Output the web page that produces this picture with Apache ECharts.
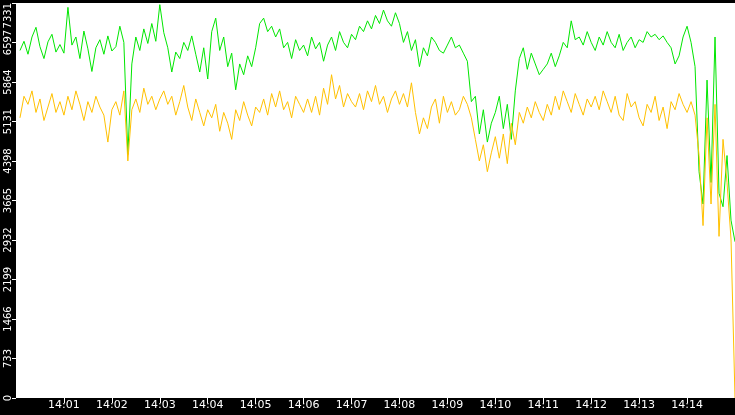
<!DOCTYPE html>
<html>
<head>
<meta charset="UTF-8">
<script src="https://cdn.jsdelivr.net/npm/echarts@6/dist/echarts.min.js"></script>
<style>html,body{margin:0;padding:0;background:#000;}#c{width:735px;height:415px;}</style>
</head>
<body>
<div id="c"></div>
<script>
// samples every 5 s starting at 14:00:05, 12 per minute
var green = [
    6450,6620,6380,6700,6880,6520,6300,6610,6750,6420,6560,6400,
    7250,6550,6700,6300,6810,6480,6060,6500,6650,6380,6720,6440,
    6520,6900,6600,4520,6200,6700,6450,6850,6580,6950,6620,7300,
    6780,6500,6050,6420,6300,6600,6450,6720,6380,6050,6500,5920,
    6800,7050,6450,6700,6150,6400,5720,6200,6000,6350,6150,6500,
    6950,7050,6800,6900,6700,6850,6500,6600,6300,6650,6450,6550,
    6350,6700,6480,6600,6250,6550,6700,6450,6800,6600,6500,6750,
    6650,6900,6800,7000,6850,7100,6950,7200,7000,6900,7150,6950,
    6600,6800,6450,6650,6150,6500,6350,6700,6600,6450,6400,6550,
    6700,6500,6550,6400,6250,5500,5600,4900,5350,4750,5100,5300,
    5600,5000,5450,4800,5700,6300,6500,6100,6400,6200,6000,6100,
    6200,6400,6150,6350,6600,6500,7000,6650,6700,6550,6800,6600,
    6450,6700,6550,6800,6600,6500,6750,6450,6600,6700,6500,6650,
    6600,6800,6700,6750,6650,6720,6600,6500,6200,6350,6700,6900,
    6600,6150,4200,3600,5900,4000,6700,3800,3550,4500,3300,2900
];
var yellow = [
    5200,5600,5450,5700,5300,5550,5150,5400,5650,5300,5500,5250,
    5600,5350,5700,5450,5150,5500,5300,5600,5400,5250,4750,5350,
    5500,5250,5700,4400,5350,5550,5300,5750,5450,5600,5350,5550,
    5700,5450,5600,5250,5500,5800,5400,5150,5550,5300,5050,5350,
    5200,5450,4950,5300,5100,4800,5350,5150,5500,5250,5050,5400,
    5300,5550,5250,5650,5400,5700,5350,5500,5200,5600,5450,5300,
    5550,5300,5600,5250,5750,5450,6000,5550,5800,5400,5650,5500,
    5400,5650,5350,5700,5500,5800,5450,5600,5300,5550,5700,5450,
    5650,5400,5850,5300,4900,5200,5000,5400,5550,5100,5600,5300,
    5500,5250,5350,5600,5450,5200,4800,4400,4700,4200,4550,4850,
    4450,4900,4350,5100,4700,5300,5100,5400,5200,5500,5300,5150,
    5450,5250,5600,5350,5700,5500,5300,5650,5450,5250,5550,5400,
    5600,5350,5700,5500,5300,5600,5250,5150,5650,5400,5500,5200,
    5050,5450,5300,5600,5150,5400,5000,5500,5350,5650,5450,5300,
    5500,5250,4500,3200,5200,3600,5450,3000,4800,4000,2950,0
];
var stepSec = 5;
var yMax = 7331;

function pairs(arr) {
    return arr.map(function (v, i) { return [(i + 1) * stepSec, v]; });
}

var chart = echarts.init(document.getElementById('c'));
chart.setOption({
    backgroundColor: '#000',
    animation: false,
    grid: { left: 16, right: 0, top: 0, bottom: 17, show: true, backgroundColor: '#fff', borderWidth: 0 },
    xAxis: {
        type: 'value', min: 0, max: 900, interval: 60,
        axisLine: { show: false },
        axisTick: { show: true, length: 5, lineStyle: { color: '#fff' } },
        splitLine: { show: false },
        axisLabel: {
            color: '#fff', fontSize: 11, fontFamily: 'DejaVu Sans', margin: 2,
            showMinLabel: false, showMaxLabel: false,
            formatter: function (v) { var m = Math.round(v / 60); return '14:' + (m < 10 ? '0' + m : m); }
        }
    },
    yAxis: {
        type: 'value', min: 0, max: yMax, interval: yMax / 10,
        axisLine: { show: false },
        axisTick: { show: true, length: 4, lineStyle: { color: '#fff' } },
        splitLine: { show: false },
        axisLabel: {
            color: '#fff', fontSize: 10, fontFamily: 'DejaVu Sans', rotate: 90, margin: 3,
            alignMaxLabel: 'right',
            formatter: function (v) { return String(Math.floor(v + 0.01)); }
        }
    },
    series: [
        { type: 'line', data: pairs(green), showSymbol: false, lineStyle: { color: '#00e600', width: 1 } },
        { type: 'line', data: pairs(yellow), showSymbol: false, lineStyle: { color: '#ffc000', width: 1 } }
    ]
});
</script>
</body>
</html>
